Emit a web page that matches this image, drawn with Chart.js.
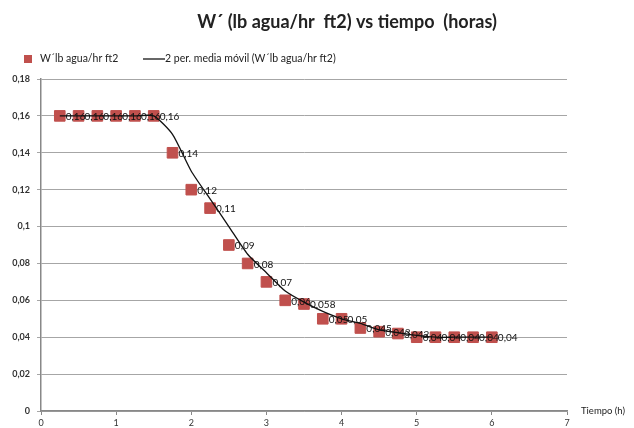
<!DOCTYPE html>
<html>
<head>
<meta charset="utf-8">
<script src="https://cdn.jsdelivr.net/npm/chart.js@4"></script>
<style>
  html, body { margin: 0; padding: 0; background: #fff; }
  #wrap { width: 634px; height: 428px; }
</style>
</head>
<body>
<div id="wrap"><canvas id="chart"></canvas></div>
<script>
// tiempo (h) y W' (lb agua/hr ft2)
const tiempo = [0.25, 0.5, 0.75, 1, 1.25, 1.5, 1.75, 2, 2.25, 2.5, 2.75, 3, 3.25, 3.5, 3.75, 4, 4.25, 4.5, 4.75, 5, 5.25, 5.5, 5.75, 6];
const wValues = [0.16, 0.16, 0.16, 0.16, 0.16, 0.16, 0.14, 0.12, 0.11, 0.09, 0.08, 0.07, 0.06, 0.058, 0.05, 0.05, 0.045, 0.043, 0.042, 0.04, 0.04, 0.04, 0.04, 0.04];
const yTicks = [0, 0.02, 0.04, 0.06, 0.08, 0.1, 0.12, 0.14, 0.16, 0.18];
const xTicks = [0, 1, 2, 3, 4, 5, 6, 7];

const titleText = "W´ (lb agua/hr  ft2) vs tiempo  (horas)";
const serieLabel = "W´lb agua/hr ft2";
const mediaLabel = "2 per. media móvil (W´lb agua/hr ft2)";

// media movil de 2 periodos (linea de tendencia)
const media = tiempo.map((t, i) => ({
    x: t,
    y: i === 0 ? wValues[0] : (wValues[i - 1] + wValues[i]) / 2
}));

const coma = (v) => String(v).replace(".", ",");

const extras = {
    id: "extras",
    afterDraw(chart) {
        const ctx = chart.ctx;
        ctx.save();

        // titulo
        ctx.fillStyle = "#222";
        ctx.font = "bold 18px Lato";
        ctx.textAlign = "center";
        ctx.textBaseline = "middle";
        ctx.fillText(titleText, 347, 22);

        // leyenda
        ctx.font = "10.5px Lato";
        ctx.textAlign = "left";
        ctx.fillStyle = "#c0504d";
        ctx.fillRect(24, 55, 8, 8);
        ctx.fillStyle = "#222";
        ctx.fillText(serieLabel, 40, 59);
        ctx.strokeStyle = "#000";
        ctx.lineWidth = 1.2;
        ctx.beginPath();
        ctx.moveTo(143, 59);
        ctx.lineTo(165, 59);
        ctx.stroke();
        ctx.fillText(mediaLabel, 165, 59);

        // titulo del eje x
        ctx.font = "9.5px Lato";
        ctx.fillText("Tiempo (h)", 581, 411);

        // etiquetas de datos
        const meta = chart.getDatasetMeta(0);
        ctx.font = "10px Lato";
        ctx.fillStyle = "#111";
        meta.data.forEach((pt, i) => {
            ctx.fillText(coma(wValues[i]), pt.x + 6, pt.y + 1);
        });
        ctx.restore();
    }
};

new Chart(document.getElementById("chart"), {
    type: "scatter",
    data: {
        datasets: [
            {
                label: serieLabel,
                data: tiempo.map((t, i) => ({ x: t, y: wValues[i] })),
                backgroundColor: "#c0504d",
                borderColor: "#c0504d",
                pointStyle: "rect",
                pointRadius: 7.5,
                pointHoverRadius: 7.5,
                order: 2
            },
            {
                label: mediaLabel,
                type: "line",
                data: media,
                borderColor: "#111",
                borderWidth: 1.3,
                pointRadius: 0,
                tension: 0.2,
                fill: false,
                order: 1
            }
        ]
    },
    options: {
        responsive: true,
        maintainAspectRatio: false,
        animation: false,
        events: [],
        layout: { padding: { top: 79, right: 67, bottom: 0, left: 0 } },
        plugins: {
            legend: { display: false },
            title: { display: false },
            tooltip: { enabled: false }
        },
        scales: {
            x: {
                type: "linear",
                min: 0,
                max: 7,
                afterBuildTicks: (s) => { s.ticks = xTicks.map((v) => ({ value: v })); },
                afterFit: (s) => { s.height = 17; },
                border: { color: "#888", width: 1.5 },
                grid: { drawOnChartArea: false, drawTicks: true, tickLength: 4, color: "#888" },
                ticks: {
                    font: { family: "Lato", size: 9 },
                    color: "#333",
                    padding: 3,
                    maxRotation: 0
                }
            },
            y: {
                min: 0,
                max: 0.18,
                afterBuildTicks: (s) => { s.ticks = yTicks.map((v) => ({ value: v })); },
                afterFit: (s) => { s.width = 41; },
                border: { color: "#888", width: 1.5 },
                grid: { color: "#a6a6a6", lineWidth: 1, tickLength: 4 },
                ticks: {
                    font: { family: "Lato", size: 9, weight: "bold" },
                    color: "#333",
                    padding: 7,
                    callback: (v) => coma(v)
                }
            }
        }
    },
    plugins: [extras]
});
</script>
</body>
</html>
